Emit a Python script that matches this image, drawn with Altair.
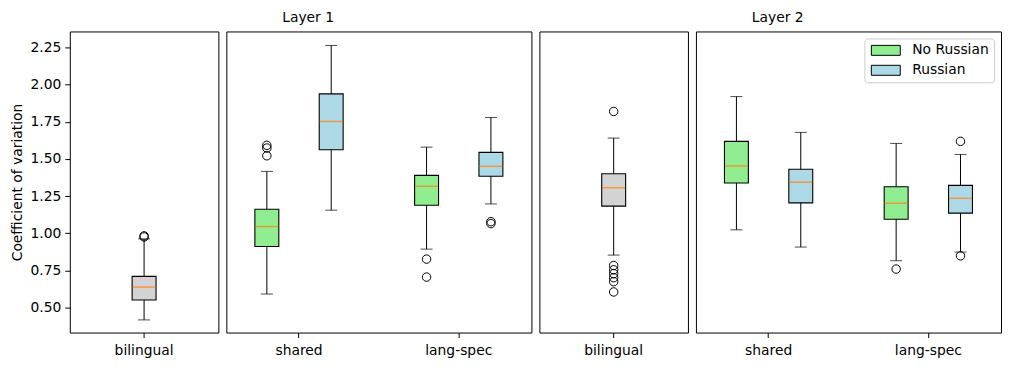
import altair as alt
import pandas as pd

GROUPS = ["No Russian", "Russian"]
PAIR_CATS = ["shared", "lang-spec"]
BI_CATS = ["bilingual"]
GROUP_COLORS = ["#90ee90", "#add8e6"]
BI_COLOR = "#d3d3d3"
MEDIAN_COLOR = "#ff7f0e"

# five-number summaries: [whisker low, q1, median, q3, whisker high]
L1_BILINGUAL = [0.417, 0.551, 0.638, 0.710, 0.962]
L1_BILINGUAL_OUT = [0.975, 0.982]
L1_SHARED_NR = [0.591, 0.911, 1.045, 1.161, 1.416]
L1_SHARED_NR_OUT = [1.521, 1.573, 1.591]
L1_SHARED_R = [1.155, 1.561, 1.752, 1.937, 2.263]
L1_SHARED_R_OUT = []
L1_LANG_NR = [0.893, 1.188, 1.316, 1.389, 1.579]
L1_LANG_NR_OUT = [0.705, 0.826]
L1_LANG_R = [1.197, 1.383, 1.450, 1.544, 1.778]
L1_LANG_R_OUT = [1.065, 1.078]

L2_BILINGUAL = [0.853, 1.182, 1.306, 1.400, 1.640]
L2_BILINGUAL_OUT = [0.605, 0.674, 0.701, 0.728, 0.754, 0.783, 1.819]
L2_SHARED_NR = [1.023, 1.338, 1.452, 1.618, 1.919]
L2_SHARED_NR_OUT = []
L2_SHARED_R = [0.907, 1.204, 1.343, 1.430, 1.678]
L2_SHARED_R_OUT = []
L2_LANG_NR = [0.815, 1.094, 1.202, 1.313, 1.604]
L2_LANG_NR_OUT = [0.759]
L2_LANG_R = [0.873, 1.135, 1.235, 1.322, 1.530]
L2_LANG_R_OUT = [0.848, 1.618]

Y_DOMAIN = [0.332, 2.357]
Y_TICKS = [0.5, 0.75, 1.0, 1.25, 1.5, 1.75, 2.0, 2.25]
FS = 13.9


def srow(cat, grp, s):
    return dict(cat=cat, grp=grp, lo=s[0], q1=s[1], med=s[2], q3=s[3], hi=s[4])


def orows(cat, grp, vals):
    return [dict(cat=cat, grp=grp, v=v) for v in vals]


def make_panel(stats, outs, width, paired, title, show_y, legend):
    sdf = pd.DataFrame(stats)
    odf = pd.DataFrame(outs, columns=["cat", "grp", "v"])
    xaxis = alt.Axis(title=None, labelAngle=0, labelFontSize=FS, labelColor="black",
                     tickColor="black", tickSize=5, tickWidth=1, domain=False,
                     labelPadding=6, grid=False)
    if paired:
        xscale = alt.Scale(domain=PAIR_CATS, paddingInner=0.09, paddingOuter=0)
    else:
        xscale = alt.Scale(domain=BI_CATS)
    enc = dict(x=alt.X("cat:N", scale=xscale, axis=xaxis))
    if paired:
        enc["xOffset"] = alt.XOffset("grp:N", scale=alt.Scale(domain=GROUPS, paddingInner=0.627,
                                                                paddingOuter=0.443))
    yscale = alt.Scale(domain=Y_DOMAIN, nice=False, zero=False)
    if show_y:
        yaxis = alt.Axis(values=Y_TICKS, format=".2f", labelFontSize=FS, labelColor="black",
                         tickColor="black", tickSize=5, tickWidth=1, domain=False, grid=False,
                         labelPadding=4, titleFontSize=FS, titleFontWeight="normal",
                         titleColor="black", titlePadding=6)
    else:
        yaxis = None

    def Y(field):
        return alt.Y(f"{field}:Q", scale=yscale, axis=yaxis, title="Coefficient of variation")

    whisk = alt.Chart(sdf).mark_rule(color="black", strokeWidth=1).encode(y=Y("lo"), y2="hi", **enc)
    caplo = alt.Chart(sdf).mark_tick(color="black", size=12, thickness=1).encode(y=Y("lo"), **enc)
    caphi = alt.Chart(sdf).mark_tick(color="black", size=12, thickness=1).encode(y=Y("hi"), **enc)
    if paired:
        fill = alt.Fill("grp:N", scale=alt.Scale(domain=GROUPS, range=GROUP_COLORS),
                        legend=legend)
    else:
        fill = alt.value(BI_COLOR)
    box = alt.Chart(sdf).mark_bar(stroke="black", strokeWidth=1.1, size=24).encode(
        y=Y("q1"), y2="q3", fill=fill, **enc)
    med = alt.Chart(sdf).mark_tick(color=MEDIAN_COLOR, size=23, thickness=1.5).encode(y=Y("med"), **enc)
    layers = [whisk, caplo, caphi, box, med]
    if len(odf):
        pts = alt.Chart(odf).mark_point(shape="circle", filled=False, stroke="black",
                                        strokeWidth=1, size=72, opacity=1).encode(y=Y("v"), **enc)
        layers.append(pts)
    tp = alt.TitleParams(text=title, anchor="middle", dx=-71, fontSize=FS, fontWeight="normal",
                         color="black", offset=7)
    return alt.layer(*layers).properties(width=width, height=302, title=tp)


legend = alt.Legend(title=None, orient="top-right", offset=7,
                    symbolType="M-1,-1H4.8V1H-1Z", symbolSize=100,
                    symbolStrokeColor="black", symbolStrokeWidth=1, symbolOpacity=1,
                    labelFontSize=FS, labelColor="black", labelOffset=29, rowPadding=5,
                    padding=5, fillColor="rgba(255,255,255,0.8)", strokeColor="#cccccc",
                    cornerRadius=3)

p1 = make_panel([srow("bilingual", "", L1_BILINGUAL)],
                orows("bilingual", "", L1_BILINGUAL_OUT), 149, False, " ", True, None)
p2 = make_panel([srow("shared", "No Russian", L1_SHARED_NR), srow("shared", "Russian", L1_SHARED_R),
                 srow("lang-spec", "No Russian", L1_LANG_NR), srow("lang-spec", "Russian", L1_LANG_R)],
                orows("shared", "No Russian", L1_SHARED_NR_OUT) + orows("shared", "Russian", L1_SHARED_R_OUT)
                + orows("lang-spec", "No Russian", L1_LANG_NR_OUT) + orows("lang-spec", "Russian", L1_LANG_R_OUT),
                306, True, "Layer 1", False, None)
p3 = make_panel([srow("bilingual", "", L2_BILINGUAL)],
                orows("bilingual", "", L2_BILINGUAL_OUT), 149, False, " ", False, None)
p4 = make_panel([srow("shared", "No Russian", L2_SHARED_NR), srow("shared", "Russian", L2_SHARED_R),
                 srow("lang-spec", "No Russian", L2_LANG_NR), srow("lang-spec", "Russian", L2_LANG_R)],
                orows("shared", "No Russian", L2_SHARED_NR_OUT) + orows("shared", "Russian", L2_SHARED_R_OUT)
                + orows("lang-spec", "No Russian", L2_LANG_NR_OUT) + orows("lang-spec", "Russian", L2_LANG_R_OUT),
                306, True, "Layer 2", False, legend)

chart = alt.hconcat(p1, p2, p3, p4, spacing=6).resolve_scale(fill="independent").properties(
    padding={"left": 1, "top": 1, "right": 0, "bottom": 0}
).configure(font="DejaVu Sans").configure_view(stroke="black", strokeWidth=1)

chart.save("out.html", embed_options={"renderer": "svg", "actions": False})
